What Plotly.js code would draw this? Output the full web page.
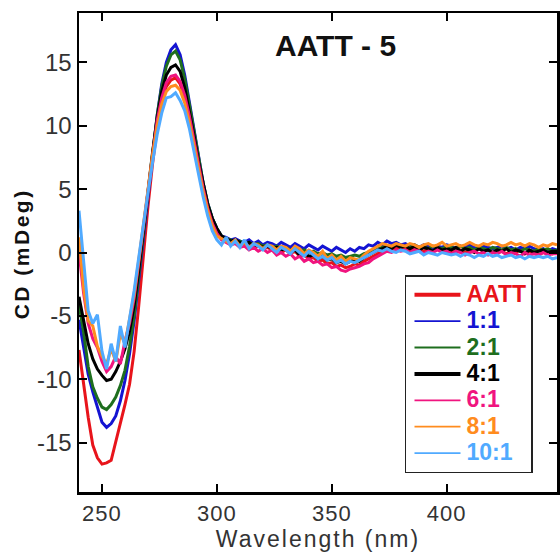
<!DOCTYPE html>
<html>
<head>
<meta charset="utf-8">
<script src="https://cdn.plot.ly/plotly-3.0.1.min.js"></script>
<style>
html,body{margin:0;padding:0;background:#fff;}
#chart{width:560px;height:557px;}
#chart .xtitle{letter-spacing:2px;}
#chart .ytitle-ann text{letter-spacing:2.5px;}
#chart .xtick text{letter-spacing:1px;}
</style>
</head>
<body>
<div id="chart"></div>
<script>
// Wavelength grid (nm)
var wavelength = [240,242,244,246,248,250,252,254,256,258,260,262,264,266,268,270,272,274,276,278,280,282,284,286,288,290,292,294,296,298,300,
302,304,306,308,310,312,314,316,318,320,322,324,326,328,330,332,334,336,338,340,342,344,346,348,350,352,354,356,358,360,
362,364,366,368,370,372,374,376,378,380,382,384,386,388,390,392,394,396,398,400,402,404,406,408,410,412,414,416,418,420,
422,424,426,428,430,432,434,436,438,440,442,444,446,448];

// Tick labels
var xTickVals = [250, 300, 350, 400];
var xTickText = ["250", "300", "350", "400"];
var yTickVals = [-15, -10, -5, 0, 5, 10, 15];
var yTickText = ["-15", "-10", "-5", "0", "5", "10", "15"];

var seriesNames = ["AATT","1:1","2:1","4:1","6:1","8:1","10:1"];

var cdAATT = [-7.7,-10.4,-13.0,-15.2,-16.2,-16.7,-16.6,-16.4,-15.0,-13.5,-12.0,-10.4,-7.8,-4.2,-0.2,3.6,7.0,9.8,11.9,13.1,13.6,13.8,13.3,12.2,10.5,8.6,6.8,5.0,3.6,2.5,1.7,
1.2,1.0,0.8,0.9,0.6,0.5,0.7,0.4,0.5,0.3,0.4,0.2,0.3,0.0,0.2,-0.1,0.1,-0.3,-0.2,-0.5,-0.4,-0.7,-0.6,-0.9,-0.8,-1.1,-1.0,-1.2,-1.1,-0.9,
-1.0,-0.7,-0.5,-0.3,-0.1,0.1,0.3,0.2,0.4,0.3,0.4,0.2,0.4,0.3,0.1,0.3,0.2,0.4,0.2,0.3,0.1,0.3,0.2,0.0,0.2,0.1,0.3,0.1,0.2,0.0,
0.2,0.1,-0.1,0.1,0.0,0.2,-0.1,0.1,0.0,-0.2,0.0,0.1,-0.1,0.0];

var cd1to1 = [-5.3,-7.3,-9.6,-11.0,-12.2,-13.4,-13.8,-13.5,-12.9,-11.7,-10.1,-8.0,-5.4,-2.2,1.3,4.6,7.8,10.8,13.3,15.0,16.0,16.4,15.6,14.0,11.9,9.7,7.5,5.5,3.9,2.7,1.9,
1.3,1.2,1.0,1.1,0.9,0.8,1.0,0.7,0.9,0.6,0.8,0.7,0.5,0.8,0.6,0.4,0.7,0.5,0.3,0.6,0.4,0.2,0.5,0.3,0.1,0.4,0.2,0.0,0.3,0.1,
0.4,0.3,0.6,0.5,0.8,0.6,0.9,0.7,0.8,0.6,0.7,0.5,0.6,0.4,0.6,0.5,0.3,0.5,0.4,0.6,0.5,0.3,0.5,0.4,0.6,0.4,0.3,0.5,0.4,0.3,
0.4,0.5,0.3,0.4,0.2,0.4,0.3,0.5,0.3,0.2,0.3,0.1,0.3,0.2];

var cd2to1 = [-4.1,-6.3,-9.0,-10.6,-11.5,-12.2,-12.4,-12.0,-11.4,-10.5,-9.3,-7.4,-5.0,-2.0,1.4,4.7,7.9,10.8,13.1,14.7,15.6,15.9,15.2,13.7,11.7,9.6,7.4,5.5,3.9,2.7,1.9,
1.3,1.1,1.0,0.8,0.9,0.7,0.8,0.6,0.7,0.5,0.6,0.4,0.5,0.3,0.4,0.2,0.3,0.1,0.2,0.0,0.1,-0.1,0.0,-0.2,-0.1,-0.3,-0.2,-0.4,-0.3,-0.2,
-0.3,-0.1,0.0,0.2,0.3,0.4,0.5,0.4,0.6,0.5,0.5,0.4,0.6,0.4,0.5,0.3,0.5,0.4,0.3,0.5,0.4,0.3,0.5,0.3,0.4,0.2,0.4,0.3,0.2,0.4,
0.3,0.2,0.4,0.2,0.3,0.1,0.3,0.2,0.1,0.3,0.2,0.3,0.1,0.2];

var cd4to1 = [-3.5,-5.4,-7.2,-8.4,-9.2,-9.7,-10.1,-10.0,-9.4,-8.6,-7.6,-6.2,-4.2,-1.4,1.8,4.9,7.9,10.6,12.7,14.0,14.6,14.8,14.3,13.0,11.2,9.3,7.2,5.4,3.8,2.7,1.9,
1.3,1.1,0.9,1.0,0.8,0.6,0.8,0.5,0.6,0.4,0.5,0.3,0.4,0.2,0.3,0.0,0.2,-0.2,0.0,-0.3,-0.2,-0.5,-0.3,-0.6,-0.5,-0.8,-0.7,-0.9,-0.7,-0.6,
-0.7,-0.4,-0.2,0.0,0.2,0.3,0.5,0.3,0.6,0.4,0.5,0.3,0.5,0.2,0.4,0.3,0.1,0.4,0.2,0.3,0.2,0.4,0.1,0.3,0.2,0.0,0.3,0.1,0.2,0.0,
0.2,0.1,0.3,0.0,0.2,0.1,-0.1,0.2,0.0,0.1,0.2,0.0,0.1,0.1];

var cd6to1 = [0.0,-3.2,-5.6,-6.8,-7.5,-8.6,-9.4,-9.0,-8.2,-8.8,-7.0,-5.6,-3.6,-0.8,2.2,5.1,7.9,10.4,12.2,13.4,13.9,14.0,13.5,12.4,10.8,8.9,6.9,5.1,3.5,2.3,1.5,
1.0,0.8,0.6,0.7,0.4,0.5,0.2,0.4,0.1,0.3,0.0,0.2,-0.2,0.0,-0.3,-0.1,-0.5,-0.3,-0.7,-0.5,-0.8,-0.7,-1.0,-0.9,-1.2,-1.1,-1.4,-1.5,-1.3,-1.2,
-1.1,-0.9,-0.8,-0.5,-0.3,-0.1,0.1,0.0,0.2,0.1,0.2,0.0,0.2,0.1,-0.1,0.1,0.0,0.2,0.0,0.1,-0.1,0.1,0.0,-0.2,0.0,0.1,-0.1,0.0,-0.2,0.0,
-0.1,0.1,-0.2,0.0,-0.1,-0.3,0.0,-0.2,-0.1,-0.2,0.0,-0.2,-0.1,-0.1];

var cd8to1 = [1.2,-2.8,-5.4,-5.8,-7.4,-8.2,-8.8,-7.6,-8.6,-6.4,-7.2,-5.2,-3.3,-0.6,2.3,5.0,7.7,10.0,11.7,12.7,13.1,13.2,12.8,11.8,10.3,8.5,6.6,4.8,3.3,2.1,1.3,
1.1,0.9,0.7,1.0,0.5,0.8,0.4,0.7,0.6,0.3,0.6,0.5,0.2,0.5,0.4,0.1,0.5,0.3,-0.1,0.2,0.0,-0.3,0.1,-0.5,-0.2,-0.6,-0.3,-0.7,-0.4,-0.5,
-0.6,-0.2,0.1,0.3,0.5,0.7,0.6,0.5,0.7,0.6,0.5,0.7,0.6,0.4,0.6,0.7,0.5,0.6,0.8,0.5,0.6,0.7,0.5,0.6,0.8,0.6,0.5,0.7,0.6,0.8,
0.7,0.5,0.6,0.8,0.6,0.7,0.5,0.7,0.6,0.4,0.6,0.5,0.7,0.6];

var cd10to1 = [3.3,-1.0,-4.6,-5.6,-4.9,-7.8,-9.2,-7.2,-8.6,-5.8,-7.5,-5.2,-3.0,-0.4,2.3,4.7,7.1,9.3,11.0,12.2,12.3,12.6,12.0,11.2,9.8,8.1,6.2,4.4,2.9,1.7,1.0,
0.6,1.2,0.5,0.9,0.4,1.0,0.3,0.7,0.5,0.2,0.6,0.3,0.0,0.4,0.2,-0.1,0.3,0.0,-0.3,0.1,-0.2,-0.5,-0.3,-0.6,-0.4,-0.8,-0.6,-0.9,-0.7,-0.8,
-0.6,-0.4,-0.2,0.0,0.2,0.1,0.3,0.1,0.0,0.2,0.1,-0.1,0.0,0.1,-0.2,0.0,-0.1,-0.2,0.0,-0.1,-0.2,-0.1,-0.3,-0.1,-0.2,-0.4,-0.2,-0.3,-0.1,-0.3,
-0.2,-0.4,-0.3,-0.2,-0.4,-0.3,-0.5,-0.3,-0.4,-0.3,-0.4,-0.3,-0.5,-0.4];

var seriesValues = [cdAATT, cd1to1, cd2to1, cd4to1, cd6to1, cd8to1, cd10to1];
var seriesColors = ["#e8141b","#1414d2","#1e6e1e","#000000","#f0147f","#ff8c1e","#50aaff"];
var legendThick = [true, false, false, true, false, false, false];

var traces = seriesValues.map(function(vals, i){
  return {
    x: wavelength, y: vals, type: 'scatter', mode: 'lines',
    name: '<b><span style="color:' + seriesColors[i] + ';font-size:23px">' + seriesNames[i] + '</span></b>',
    line: {color: seriesColors[i], width: 3}
  };
});

var font = "'Liberation Sans', Arial, sans-serif";
var layout = {
  width: 560, height: 557,
  margin: {l: 79, r: 3, t: 13, b: 65},
  paper_bgcolor: '#fff', plot_bgcolor: '#fff',
  showlegend: true,
  font: {family: font, color: '#333'},
  xaxis: {
    range: [240, 448], tickmode: 'array', tickvals: xTickVals, ticktext: xTickText,
    ticks: 'inside', ticklen: 8, tickwidth: 2, tickcolor: '#000',
    showline: true, linewidth: 2.5, linecolor: '#000', mirror: 'ticks',
    showgrid: false, zeroline: false,
    tickfont: {family: font, size: 22, color: '#333'},
    title: {text: 'Wavelength (nm)', font: {family: font, size: 23, color: '#333'}, standoff: 5}
  },
  yaxis: {
    range: [-18.9, 18.9], tickmode: 'array', tickvals: yTickVals, ticktext: yTickText,
    ticks: 'inside', ticklen: 8, tickwidth: 2, tickcolor: '#000',
    showline: true, linewidth: 2.5, linecolor: '#000', mirror: 'ticks',
    showgrid: false, zeroline: false,
    tickfont: {family: font, size: 24, color: '#333'}
  },
  legend: {
    x: 0.682, y: 0.453, xanchor: 'left', yanchor: 'top',
    bgcolor: '#fff', bordercolor: '#222', borderwidth: 1.5,
    font: {family: font, size: 18},
    itemwidth: 50, tracegroupgap: 0
  },
  annotations: [{
    text: '<b>AATT - 5</b>', xref: 'paper', yref: 'paper',
    x: 0.537, y: 0.933, xanchor: 'center', yanchor: 'middle', showarrow: false,
    font: {family: font, size: 30, color: '#111'}
  }, {
    text: '<b>CD (mDeg)</b>', xref: 'paper', yref: 'paper',
    x: -0.119, y: 0.497, xanchor: 'center', yanchor: 'middle', showarrow: false,
    textangle: -90, font: {family: font, size: 21, color: '#111'}
  }]
};

Plotly.newPlot('chart', traces, layout, {staticPlot: true, displayModeBar: false}).then(function(gd){
  var items = gd.querySelectorAll('.legend .traces');
  items.forEach(function(item, i){
    var p = item.querySelector('.legendlines path');
    if (p) {
      p.setAttribute('d', 'M8,0h46');
      p.style.strokeWidth = legendThick[i] ? '4px' : '1.8px';
    }
  });
  var anns = gd.querySelectorAll('.annotation');
  if (anns[1]) anns[1].classList.add('ytitle-ann');
});
</script>
</body>
</html>
